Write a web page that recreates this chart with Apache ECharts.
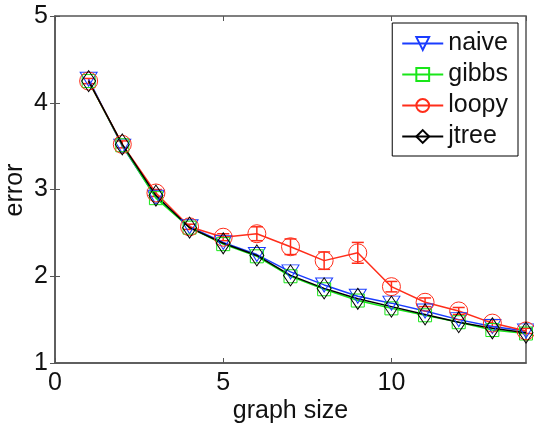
<!DOCTYPE html>
<html>
<head>
<meta charset="utf-8">
<script src="https://cdn.jsdelivr.net/npm/echarts@6/dist/echarts.min.js"></script>
<style>
  html, body { margin: 0; padding: 0; background: #fff; }
  #chart { width: 534px; height: 425px; }
</style>
</head>
<body>
<div id="chart"></div>
<script>
// graph sizes
var sizes = [1, 2, 3, 4, 5, 6, 7, 8, 9, 10, 11, 12, 13, 14];
// error per method
var naive = [4.27, 3.50, 2.91, 2.57, 2.39, 2.25, 2.05, 1.90, 1.77, 1.69, 1.60, 1.50, 1.42, 1.37];
var gibbs = [4.25, 3.51, 2.90, 2.56, 2.37, 2.23, 2.00, 1.85, 1.72, 1.63, 1.55, 1.47, 1.38, 1.34];
var loopy = [4.25, 3.52, 2.96, 2.57, 2.45, 2.49, 2.34, 2.18, 2.27, 1.88, 1.70, 1.60, 1.46, 1.37];
var loopyErr = [0.03, 0.04, 0.04, 0.03, 0.04, 0.08, 0.09, 0.1, 0.12, 0.06, 0.05, 0.04, 0.04, 0.03];
var jtree = [4.25, 3.52, 2.93, 2.56, 2.38, 2.24, 2.01, 1.86, 1.74, 1.65, 1.56, 1.47, 1.40, 1.35];
var xTicks = [0, 5, 10];
var yTicks = [1, 2, 3, 4, 5];

function pairs(ys) {
  return sizes.map(function (x, i) { return [x, ys[i]]; });
}

var errData = sizes.map(function (x, i) {
  return [x, loopy[i] - loopyErr[i], loopy[i] + loopyErr[i]];
});

var font = "Liberation Sans, Arial, sans-serif";
var axisCol = "#555";

var chart = echarts.init(document.getElementById("chart"));

function lineSeries(name, data, color, symbol, size, rotate) {
  return {
    name: name,
    type: "line",
    data: pairs(data),
    symbol: symbol,
    symbolSize: size,
    symbolRotate: rotate || 0,
    showAllSymbol: true,
    color: color,
    lineStyle: { color: color, width: 1.5 },
    itemStyle: { color: "rgba(0,0,0,0)", borderColor: color, borderWidth: 1 },
    emphasis: { disabled: true },
    animation: false
  };
}

chart.setOption({
  animation: false,
  grid: {
    left: 55, right: 8, top: 16, bottom: 62,
    outerBoundsMode: "none", containLabel: false,
    show: true, borderColor: axisCol, borderWidth: 1.5
  },
  // y axis title, placed by hand so it sits close to the tick labels
  graphic: [{
    type: "text",
    x: 15,
    y: 190,
    rotation: Math.PI / 2,
    style: {
      text: "error",
      fontFamily: font,
      fontSize: 25,
      fill: "#111",
      align: "center",
      verticalAlign: "middle"
    }
  }],
  legend: {
    orient: "vertical",
    right: 16,
    top: 23,
    padding: [8, 10, 7, 9],
    itemWidth: 41,
    itemHeight: 16,
    itemGap: 6,
    borderColor: "#000",
    borderWidth: 1,
    backgroundColor: "#fff",
    textStyle: { fontFamily: font, fontSize: 25, lineHeight: 24, color: "#111" },
    data: ["naive", "gibbs", "loopy", "jtree"]
  },
  xAxis: [{
    type: "value",
    min: 0,
    max: 14,
    interval: 5,
    name: "graph size",
    nameLocation: "middle",
    nameGap: 36,
    nameMoveOverlap: false,
    nameTextStyle: { fontFamily: font, fontSize: 25, color: "#111" },
    axisLine: { show: true, onZero: false, lineStyle: { color: axisCol, width: 1.5 } },
    axisTick: { show: true, inside: true, length: 5, lineStyle: { color: axisCol } },
    axisLabel: {
      fontFamily: font, fontSize: 25, color: "#111", margin: 8,
      showMaxLabel: false,
      formatter: function (v) { return xTicks.indexOf(v) >= 0 ? String(v) : ""; }
    },
    splitLine: { show: false }
  }, {
    type: "value",
    position: "top",
    min: 0,
    max: 14,
    interval: 5,
    axisLine: { show: false },
    axisTick: { show: true, inside: true, length: 5, lineStyle: { color: axisCol } },
    axisLabel: { show: false },
    splitLine: { show: false }
  }],
  yAxis: [{
    type: "value",
    min: 1,
    max: 5,
    interval: 1,
    axisLine: { show: true, onZero: false, lineStyle: { color: axisCol, width: 1.5 } },
    axisTick: { show: true, inside: true, length: 5, lineStyle: { color: axisCol } },
    axisLabel: {
      fontFamily: font, fontSize: 25, color: "#111", margin: 7,
      formatter: function (v) { return yTicks.indexOf(v) >= 0 ? String(v) : ""; }
    },
    splitLine: { show: false }
  }, {
    type: "value",
    position: "right",
    min: 1,
    max: 5,
    interval: 1,
    axisLine: { show: false },
    axisTick: { show: true, inside: true, length: 5, lineStyle: { color: axisCol } },
    axisLabel: { show: false },
    splitLine: { show: false }
  }],
  series: [
    lineSeries("naive", naive, "#1a3cff", "triangle", [17, 14], 180),
    lineSeries("gibbs", gibbs, "#19e619", "rect", 13),
    {
      type: "custom",
      name: "loopyErr",
      data: errData,
      silent: true,
      z: 2,
      renderItem: function (params, api) {
        var x = api.value(0);
        var lo = api.coord([x, api.value(1)]);
        var hi = api.coord([x, api.value(2)]);
        var cap = 6;
        var st = { stroke: "#ff2d1a", lineWidth: 1.5 };
        return {
          type: "group",
          children: [
            { type: "line", shape: { x1: lo[0], y1: lo[1], x2: hi[0], y2: hi[1] }, style: st },
            { type: "line", shape: { x1: lo[0] - cap, y1: lo[1], x2: lo[0] + cap, y2: lo[1] }, style: st },
            { type: "line", shape: { x1: hi[0] - cap, y1: hi[1], x2: hi[0] + cap, y2: hi[1] }, style: st }
          ]
        };
      }
    },
    lineSeries("loopy", loopy, "#ff2d1a", "circle", 18),
    lineSeries("jtree", jtree, "#000000", "diamond", [14, 21])
  ]
});
</script>
</body>
</html>
